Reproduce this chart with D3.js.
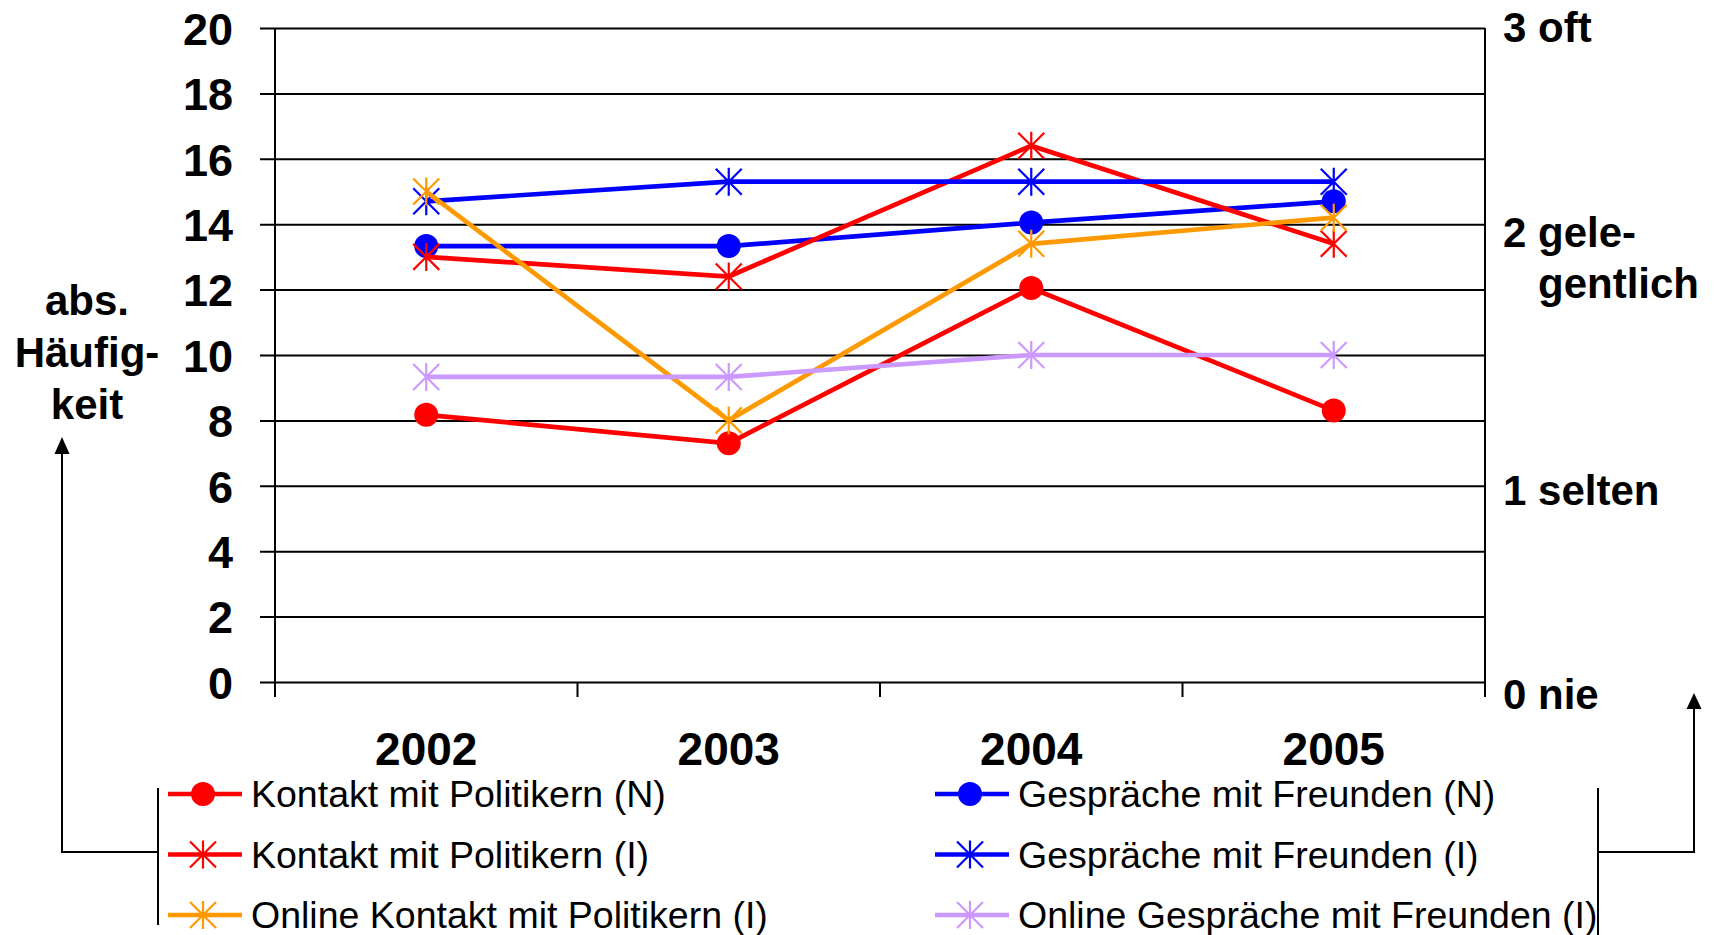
<!DOCTYPE html>
<html>
<head>
<meta charset="utf-8">
<script src="https://cdn.jsdelivr.net/npm/d3@7"></script>
<style>
    html, body { margin: 0; padding: 0; background: #fff; }
    svg { display: block; font-family: "Liberation Sans", Arial, sans-serif; }
    .grid line, .axis-line { stroke: #000; stroke-width: 2; }
    .bracket { stroke: #000; stroke-width: 2; fill: none; }
</style>
</head>
<body>
<svg id="chart"></svg>
<script>
// Values.
const years = ["2002", "2003", "2004", "2005"];
const kontaktN = [8.17, 7.3, 12.05, 8.3];
const gespraecheN = [13.33, 13.33, 14.05, 14.7];
const kontaktI = [13.0, 12.4, 16.4, 13.4];
const gespraecheI = [14.7, 15.3, 15.3, 15.3];
const onlineKontaktI = [15.0, 8.0, 13.4, 14.2];
const onlineGespraecheI = [9.33, 9.33, 10.0, 10.0];

const seriesNames = [
    "Kontakt mit Politikern (N)",
    "Gespräche mit Freunden (N)",
    "Kontakt mit Politikern (I)",
    "Gespräche mit Freunden (I)",
    "Online Kontakt mit Politikern (I)",
    "Online Gespräche mit Freunden (I)"
];

const yTickValues = [0, 2, 4, 6, 8, 10, 12, 14, 16, 18, 20];
const rightTickValues = [0, 1, 2, 3];
const rightTickLabels = [["0 nie"], ["1 selten"], ["2 gele-", "gentlich"], ["3 oft"]];
const leftAxisTitle = ["abs.", "Häufig-", "keit"];

// Series in legend order (the legend fills row by row, two columns).
const series = [
    { name: seriesNames[0], values: kontaktN, color: "#ff0000", marker: "circle" },
    { name: seriesNames[1], values: gespraecheN, color: "#0000ff", marker: "circle" },
    { name: seriesNames[2], values: kontaktI, color: "#ff0000", marker: "star" },
    { name: seriesNames[3], values: gespraecheI, color: "#0000ff", marker: "star" },
    { name: seriesNames[4], values: onlineKontaktI, color: "#ff9900", marker: "star" },
    { name: seriesNames[5], values: onlineGespraecheI, color: "#cc99ff", marker: "star" }
];

const W = 1715, H = 935;
const margin = { top: 28, right: 230, bottom: 253, left: 275 };
const width = W - margin.left - margin.right;
const height = H - margin.top - margin.bottom;

const root = d3.select("#chart").attr("width", W).attr("height", H);
const svg = root.append("g").attr("transform", `translate(${margin.left},${margin.top})`);

const x = d3.scaleBand().domain(years).range([0, width]).paddingInner(0).paddingOuter(0);
const y = d3.scaleLinear().domain([0, 20]).range([height, 0]);
const yRight = d3.scaleLinear().domain([0, 3]).range([height, 0]);

// Left axis with gridlines running across the plot.
const yAxis = svg.append("g")
    .attr("class", "grid")
    .call(d3.axisLeft(y).tickValues(yTickValues).tickSize(15).tickSizeOuter(0).tickPadding(27));
yAxis.select(".domain").remove();
yAxis.selectAll(".tick line").attr("x1", width);
yAxis.selectAll(".tick text")
    .attr("font-family", "'Liberation Sans', Arial, sans-serif")
    .attr("font-size", 45)
    .attr("font-weight", "bold")
    .attr("fill", "#000")
    .attr("dy", "0.36em");

// Vertical axis lines, both sides, running down to the category ticks.
[0, width].forEach(xp => {
    svg.append("line").attr("class", "axis-line")
        .attr("x1", xp).attr("x2", xp).attr("y1", 0).attr("y2", height + 15);
});

// Category boundary ticks below the x axis.
const boundaries = years.map(d => x(d)).concat([x(years[years.length - 1]) + x.bandwidth()]);
svg.selectAll(".xtick").data(boundaries).join("line")
    .attr("class", "axis-line")
    .attr("x1", d => d).attr("x2", d => d)
    .attr("y1", height).attr("y2", height + 15);

// Year labels.
const xAxis = svg.append("g")
    .attr("transform", `translate(0,${height})`)
    .call(d3.axisBottom(x).tickSize(0).tickPadding(0));
xAxis.select(".domain").remove();
xAxis.selectAll(".tick text")
    .attr("font-family", "'Liberation Sans', Arial, sans-serif")
    .attr("font-size", 46)
    .attr("font-weight", "bold")
    .attr("fill", "#000")
    .attr("dy", null)
    .attr("y", 83);

// Right-hand labels (placed as text boxes, roughly beside their scale values).
const rightNudge = [27, 41, 1, 14];
rightTickValues.forEach((v, i) => {
    const t = svg.append("text")
        .attr("x", width + 18)
        .attr("y", yRight(v) + rightNudge[i])
        .attr("font-size", 42)
        .attr("font-weight", "bold")
        .attr("fill", "#000");
    rightTickLabels[i].forEach((line, j) => {
        t.append("tspan")
            .attr("x", j === 0 ? width + 18 : width + 53)
            .attr("dy", j === 0 ? 0 : 51)
            .text(line);
    });
});

// Left axis title.
root.append("text")
    .attr("x", 87)
    .attr("y", 315)
    .attr("text-anchor", "middle")
    .attr("font-size", 42)
    .attr("font-weight", "bold")
    .selectAll("tspan").data(leftAxisTitle).join("tspan")
    .attr("x", 87)
    .attr("dy", (d, i) => i === 0 ? 0 : 52)
    .text(d => d);

// Marker shapes.
function drawMarker(sel, type, color) {
    if (type === "circle") {
        sel.append("circle").attr("r", 12).attr("fill", color);
    } else {
        sel.append("path")
            .attr("d", "M-13,-13L13,13M-13,13L13,-13M0,-14L0,14")
            .attr("stroke", color)
            .attr("stroke-width", 2.2)
            .attr("fill", "none");
    }
}

const line = d3.line()
    .x((d, i) => x(years[i]) + x.bandwidth() / 2)
    .y(d => y(d));

series.forEach(s => {
    const g = svg.append("g");
    g.append("path")
        .datum(s.values)
        .attr("d", line)
        .attr("fill", "none")
        .attr("stroke", s.color)
        .attr("stroke-width", 4.7);
    s.values.forEach((v, i) => {
        const m = g.append("g")
            .attr("transform", `translate(${x(years[i]) + x.bandwidth() / 2},${y(v)})`);
        drawMarker(m, s.marker, s.color);
    });
});

// Legend, two columns filled row by row.
const legendCols = [168, 935];
const legendRowY = 794;
const legendRowStep = 60.5;
series.forEach((s, i) => {
    const col = i % 2, row = Math.floor(i / 2);
    const g = root.append("g")
        .attr("transform", `translate(${legendCols[col]},${legendRowY + row * legendRowStep})`);
    g.append("line")
        .attr("x1", 0).attr("x2", 74)
        .attr("stroke", s.color).attr("stroke-width", 4.7);
    const m = g.append("g").attr("transform", "translate(35,0)");
    drawMarker(m, s.marker, s.color);
    g.append("text")
        .attr("x", 83)
        .attr("y", 13)
        .attr("font-size", 37.5)
        .attr("fill", "#000")
        .text(s.name);
});

// Brackets and arrows tying the legend halves to their axes.
const arrowY = 852;
root.append("path").attr("class", "bracket")
    .attr("d", `M158,788L158,925M158,${arrowY}L62,${arrowY}L62,452`);
root.append("path")
    .attr("d", "M62,437L54.5,454L69.5,454Z").attr("fill", "#000");

root.append("path").attr("class", "bracket")
    .attr("d", `M1598,788L1598,935M1598,${arrowY}L1694,${arrowY}L1694,707`);
root.append("path")
    .attr("d", "M1694,693L1686.5,709L1701.5,709Z").attr("fill", "#000");
</script>
</body>
</html>
